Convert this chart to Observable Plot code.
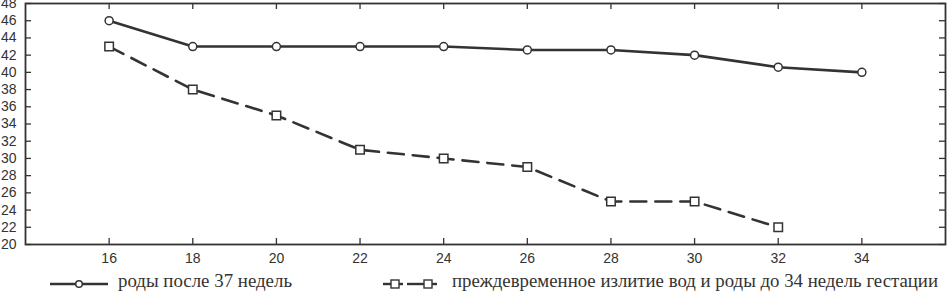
<!DOCTYPE html>
<html><head><meta charset="utf-8">
<script src="https://cdn.jsdelivr.net/npm/d3@7"></script>
<script src="https://cdn.jsdelivr.net/npm/@observablehq/plot@0.6"></script>
<style>
body{margin:0;background:#fff}
#wrap{position:relative;width:948px;height:291px;overflow:hidden}
#wrap svg{display:block}
#wrap svg.legend{position:absolute;left:0;top:0}
</style></head><body><div id="wrap"></div>
<script>
const weeks = [16, 18, 20, 22, 24, 26, 28, 30, 32, 34];
const termBirth = [46, 43, 43, 43, 43, 42.6, 42.6, 42, 40.6, 40];
const pretermWeeks = [16, 18, 20, 22, 24, 26, 28, 30, 32];
const pretermBirth = [43, 38, 35, 31, 30, 29, 25, 25, 22];
const xTicks = [16, 18, 20, 22, 24, 26, 28, 30, 32, 34];
const yTicks = [20, 22, 24, 26, 28, 30, 32, 34, 36, 38, 40, 42, 44, 46, 48];
const seriesNames = ["роды после 37 недель", "преждевременное излитие вод и роды до 34 недель гестации"];

const term = weeks.map((w, i) => ({w, v: termBirth[i]}));
const preterm = pretermWeeks.map((w, i) => ({w, v: pretermBirth[i]}));

const W = 948, H = 291, mL = 25, mR = 3, mT = 3, mB = 47;
const innerH = H - mT - mB, innerW = W - mL - mR, tk = 6;
const xDom = [14, 36], yDom = [20, 48];
const tkY = tk / innerH * (yDom[1] - yDom[0]);
const tkX = tk / innerW * (xDom[1] - xDom[0]);
const ink = "#333";

const plot = Plot.plot({
  width: W, height: H,
  marginLeft: mL, marginRight: mR, marginTop: mT, marginBottom: mB,
  style: {fontFamily: "'Liberation Sans', Arial, sans-serif", fontSize: "14px", color: ink, background: "white"},
  x: {domain: xDom, label: null},
  y: {domain: yDom, label: null},
  marks: [
    Plot.ruleX(xTicks, {x: d => d, y1: yDom[0], y2: yDom[0] + tkY, stroke: ink, strokeWidth: 1.3}),
    Plot.ruleX(xTicks, {x: d => d, y1: yDom[1] - tkY, y2: yDom[1], stroke: ink, strokeWidth: 1.3}),
    Plot.ruleY(yTicks, {y: d => d, x1: xDom[0], x2: xDom[0] + tkX, stroke: ink, strokeWidth: 1.3}),
    Plot.ruleY(yTicks, {y: d => d, x1: xDom[1] - tkX, x2: xDom[1], stroke: ink, strokeWidth: 1.3}),
    Plot.frame({stroke: ink, strokeWidth: 1.8}),
    Plot.axisX({ticks: xTicks, tickSize: 0, tickPadding: 9, fill: ink, label: null}),
    Plot.axisY({ticks: yTicks, tickSize: 0, tickPadding: 9, fill: ink, label: null}),
    Plot.line(term, {x: "w", y: "v", stroke: ink, strokeWidth: 2.6}),
    Plot.line(preterm, {x: "w", y: "v", stroke: ink, strokeWidth: 2.6, strokeDasharray: "16,9"}),
    Plot.dot(term, {x: "w", y: "v", r: 4, fill: "white", stroke: ink, strokeWidth: 1.5}),
    Plot.dot(preterm, {x: "w", y: "v", symbol: "square", r: 4.8, fill: "white", stroke: ink, strokeWidth: 1.5})
  ]
});
const wrap = document.getElementById("wrap");
wrap.appendChild(plot);

// legend
const leg = d3.select(wrap).append("svg").attr("class", "legend").attr("width", W).attr("height", H);
const ly = 284, base = 287;
const g1 = leg.append("g");
g1.append("line").attr("x1", 50).attr("x2", 108).attr("y1", ly).attr("y2", ly).attr("stroke", ink).attr("stroke-width", 2.4);
g1.append("circle").attr("cx", 79).attr("cy", ly).attr("r", 3.3).attr("fill", "white").attr("stroke", ink).attr("stroke-width", 1.5);
g1.append("text").attr("x", 118).attr("y", base).text(seriesNames[0])
  .attr("font-family", "'Liberation Serif', 'Times New Roman', serif").attr("font-size", 18).attr("fill", ink)
  .attr("textLength", 174).attr("lengthAdjust", "spacingAndGlyphs");
const g2 = leg.append("g");
[[383, 391], [399, 403], [407, 424], [432, 437]].forEach(([a, b]) =>
  g2.append("line").attr("x1", a).attr("x2", b).attr("y1", ly).attr("y2", ly).attr("stroke", ink).attr("stroke-width", 2.4));
[395, 428].forEach(cx => g2.append("rect").attr("x", cx - 4).attr("y", ly - 4).attr("width", 8).attr("height", 8)
  .attr("fill", "white").attr("stroke", ink).attr("stroke-width", 1.4));
g2.append("text").attr("x", 452).attr("y", base).text(seriesNames[1])
  .attr("font-family", "'Liberation Serif', 'Times New Roman', serif").attr("font-size", 18).attr("fill", ink)
  .attr("textLength", 486).attr("lengthAdjust", "spacingAndGlyphs");
</script></body></html>
